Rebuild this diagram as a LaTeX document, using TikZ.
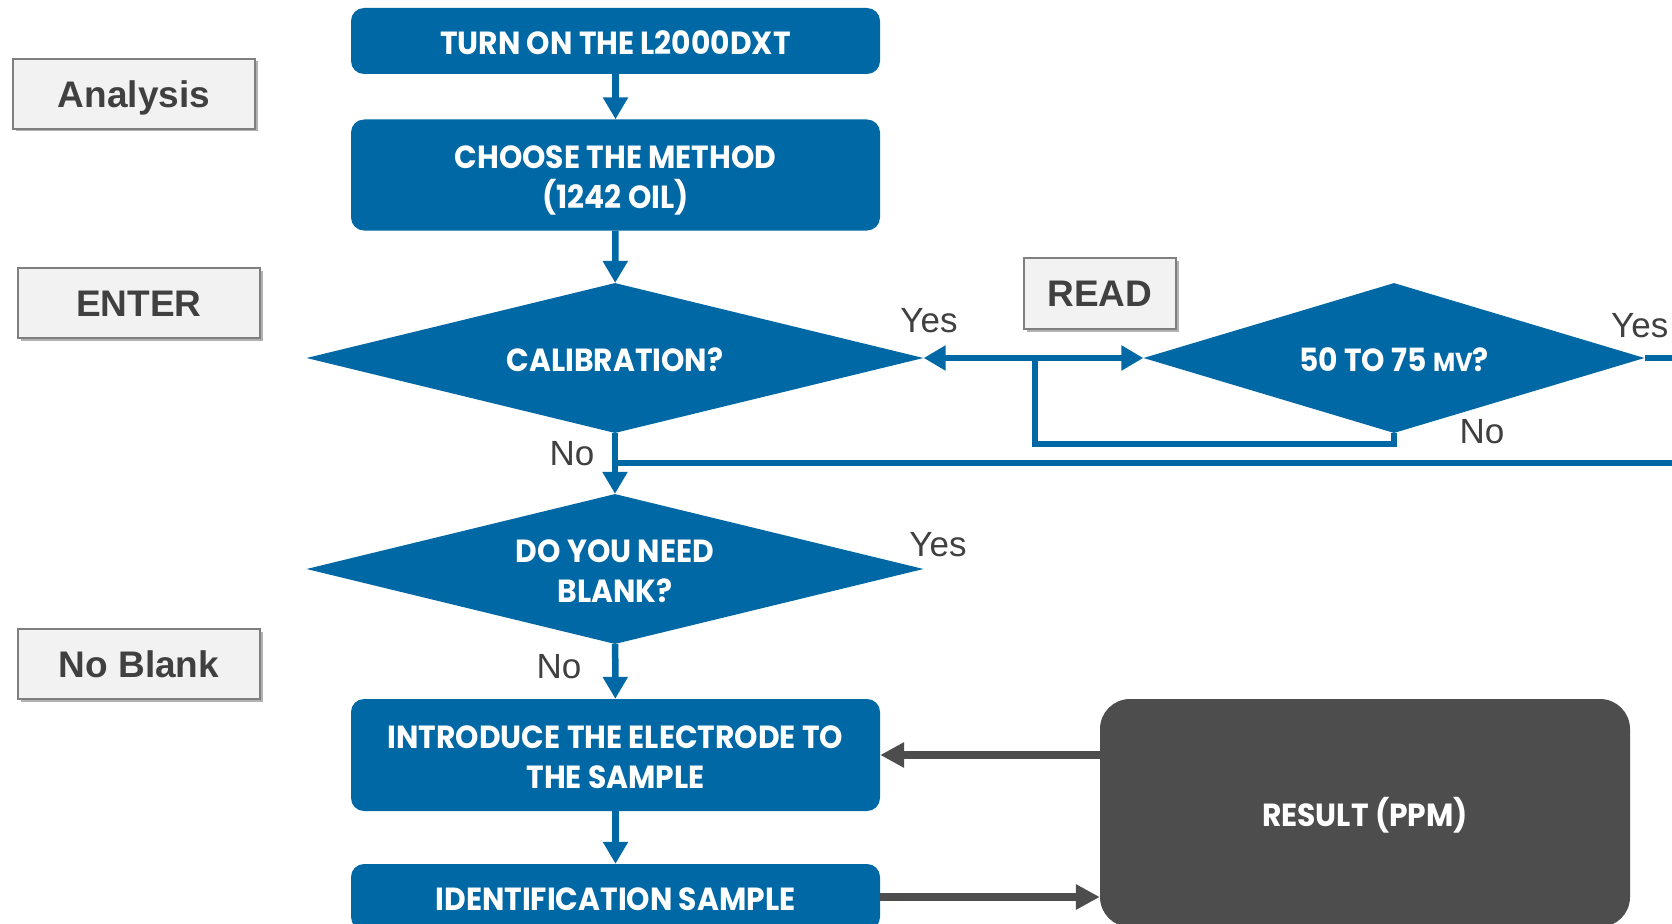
\documentclass[tikz,border=0pt]{standalone}
\usepackage{fontspec}
\setmainfont{Liberation Sans}
\newfontfamily\boxfont{Poppins}[FakeStretch=0.93]
\usetikzlibrary{shapes.geometric,arrows.meta,shadows}
\definecolor{fblue}{HTML}{0068A5}
\definecolor{rgrey}{HTML}{4D4D4D}
\definecolor{tgrey}{HTML}{7F7F7F}
\definecolor{tfill}{HTML}{F2F2F2}
\definecolor{ttext}{HTML}{404040}
\newcommand{\capline}[1]{\raisebox{-2.5pt}[22.5pt][0pt]{#1}}
\begin{document}
\begin{tikzpicture}[x=1pt,y=-1pt,
  boxtext/.style={text=white,align=center,font=\boxfont\bfseries\fontsize{32}{40}\selectfont},
  bluebox/.style={boxtext,fill=fblue,rounded corners=13pt,minimum width=529pt,inner sep=0pt},
  decision/.style={boxtext,diamond,aspect=4,fill=fblue,inner sep=0pt,minimum height=150pt},
  resultbox/.style={boxtext,fill=rgrey,rounded corners=30pt,minimum width=530pt,minimum height=228pt,inner sep=0pt},
  tag/.style={draw=tgrey,line width=2.5pt,fill=tfill,minimum width=242pt,minimum height=70pt,inner sep=0pt,
    font=\bfseries\fontsize{37}{37}\selectfont,text=ttext,text height=26.5pt,text depth=0pt,
    drop shadow={shadow xshift=2.5pt,shadow yshift=-2.5pt,opacity=0.3,fill=black}},
  ans/.style={font=\fontsize{35}{35}\selectfont,text=ttext,inner sep=0pt},
  blueline/.style={draw=fblue,line width=6.5pt},
  bluearrow/.style={blueline,-{Triangle[width=24pt,length=22pt]}},
  greyarrow/.style={draw=rgrey,line width=8pt,-{Triangle[width=24pt,length=24pt]}}
]
\useasboundingbox[fill=white] (0,0) rectangle (1672,923);

% main flow
\node[bluebox,minimum height=66pt] (turn) at (615.5,41) {\capline{TURN ON THE L2000DXT}};
\node[bluebox,minimum height=111pt] (choose) at (615.5,175) {\capline{CHOOSE THE METHOD}\\\capline{(1242 OIL)}};
\node[decision,minimum width=617pt] (calib) at (615,358) {\capline{CALIBRATION?}};
\node[decision,minimum width=501pt] (mv) at (1394,358) {\capline{50 TO 75 {\fontsize{26}{26}\selectfont MV}?}};
\node[decision,minimum width=617pt] (blank) at (615,569) {\capline{DO YOU NEED}\\\capline{BLANK?}};
\node[bluebox,minimum height=112pt] (intro) at (615.5,755) {\capline{INTRODUCE THE ELECTRODE TO}\\\capline{THE SAMPLE}};
\node[bluebox,minimum height=66pt] (ident) at (615.5,897) {\capline{IDENTIFICATION SAMPLE}};
\node[resultbox] (result) at (1365,813) {\capline{RESULT (PPM)}};

% side tags
\node[tag] (analysis) at (134,94) {Analysis};
\node[tag] (enter) at (139,303) {ENTER};
\node[tag] (noblank) at (139,664) {No Blank};
\node[tag,minimum width=152pt,minimum height=71pt] (read) at (1100,293.5) {READ};

% answer labels
\node[ans] (yes1) at (929,321) {Yes};
\node[ans,anchor=west] (yes2) at (1611,326) {Yes};
\node[ans] (no1) at (1482,432) {No};
\node[ans] (no2) at (572,454) {No};
\node[ans] (yes3) at (938,545) {Yes};
\node[ans] (no3) at (559,667) {No};

% connectors
\coordinate (jn) at (1035,358);
\coordinate (lb) at (1035,444);
\coordinate (lr) at (1690,463);
\coordinate (mr) at (1690,358);

\draw[bluearrow] (turn) -- (choose);
\draw[bluearrow] (choose) -- (calib);
\draw[bluearrow] (calib) -- (blank);
\draw[bluearrow] (blank) -- (intro);
\draw[bluearrow] (intro) -- (ident);

\draw[bluearrow] (jn) -- (calib.east);
\draw[bluearrow] (jn) -- (mv.west);
\draw[blueline,line join=miter] (jn) -- (lb) -| (mv.south);
\draw[blueline] (calib.south |- lr) -- (lr);
\draw[blueline] (mv.east) -- (mr);

\draw[greyarrow] (result.west |- intro) -- (intro.east);
\draw[greyarrow] (ident.east) -- (result.west |- ident);
\end{tikzpicture}
\end{document}
